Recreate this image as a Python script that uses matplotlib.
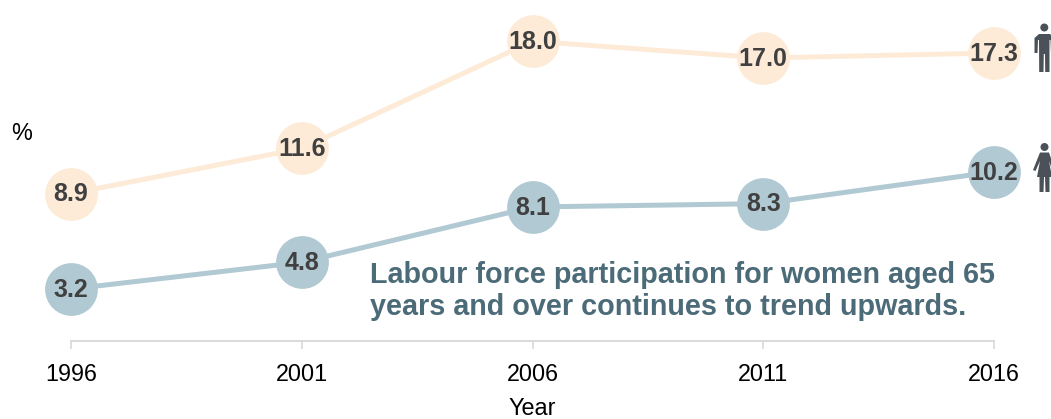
import matplotlib
matplotlib.use('Agg')
import matplotlib.pyplot as plt
from matplotlib.patches import Circle, Polygon

plt.rcParams['font.family'] = ['Liberation Sans', 'DejaVu Sans']

years = [1996, 2001, 2006, 2011, 2016]
men = [8.9, 11.6, 18.0, 17.0, 17.3]
women = [3.2, 4.8, 8.1, 8.3, 10.2]
note = "Labour force participation for women aged 65\nyears and over continues to trend upwards."

W, H = 1051, 419
fig = plt.figure(figsize=(W / 100, H / 100), dpi=100)
ax = fig.add_axes([71 / W, (H - 341) / H, 923 / W, 341 / H])
ax.set_xlim(1996, 2016)
ax.set_ylim(0.094, 0.094 + 341 / 16.74)
ax.patch.set_alpha(0)

for vals, col in [(men, '#fdebd8'), (women, '#b1c9d2')]:
    ax.plot(years, vals, color=col, lw=3.6, marker='o', ms=38, mew=0, clip_on=False)
    for x, v in zip(years, vals):
        ax.text(x, v - 0.05, f'{v:.1f}', ha='center', va='center', fontsize=18,
                fontweight='bold', color='#404040')

for s in ['top', 'left', 'right']:
    ax.spines[s].set_visible(False)
ax.spines['bottom'].set_color('#d9d9d9')
ax.spines['bottom'].set_linewidth(1.4)
ax.set_yticks([])
ax.set_xticks(years)
ax.tick_params(axis='x', length=6, width=1.2, color='#d9d9d9', labelsize=16.8, pad=9.5)

fig.text(22 / W, 1 - 133 / H, '%', ha='center', va='center', fontsize=16.8)
fig.text(532 / W, 1 - 408 / H, 'Year', ha='center', va='center', fontsize=16.8)
fig.text(370 / W, 1 - 291 / H, note, ha='left', va='center', fontsize=20.7,
         fontweight='bold', color='#4c6b78', linespacing=1.2)

# person icons, in pixel coords
over = fig.add_axes([0, 0, 1, 1])
over.set_xlim(0, W)
over.set_ylim(H, 0)
over.axis('off')
icon = '#4a5158'
over.add_patch(Circle((1044.3, 27.5), 4, color=icon, lw=0))
over.add_patch(Polygon([(1039, 34), (1050, 34), (1054, 38), (1054, 53), (1051, 53), (1050.5, 40),
                        (1049.5, 40), (1049.5, 72), (1045.2, 72), (1045, 54), (1043.8, 54), (1043.5, 72),
                        (1039.2, 72), (1039, 40), (1038, 40), (1037.5, 53), (1034.5, 53), (1034.5, 38)],
                       color=icon, lw=0))
over.add_patch(Circle((1044.5, 147), 4, color=icon, lw=0))
over.add_patch(Polygon([(1040, 152.5), (1049, 152.5), (1055, 170), (1052.5, 171), (1049, 161), (1052, 177),
                        (1049.5, 177), (1049.5, 192), (1045.5, 192), (1045, 177), (1044, 177), (1043.5, 192),
                        (1039.5, 192), (1039.5, 177), (1037, 177), (1040, 161), (1035.5, 171), (1033, 170)],
                       color=icon, lw=0))

fig.savefig('out.png', dpi=100)
